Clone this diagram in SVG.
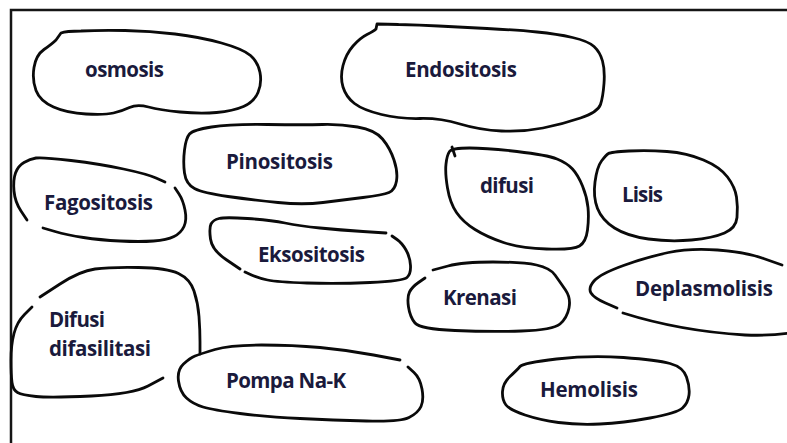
<svg xmlns="http://www.w3.org/2000/svg" width="787" height="443" viewBox="0 0 787 443">
<style>
.blob{fill:none;stroke:#0a0a0a;stroke-width:2.8;stroke-linecap:round;stroke-linejoin:round}
.frame{fill:none;stroke:#151515;stroke-width:2.5}
.lbl{font-family:"Open Sans","Lato","Noto Sans",sans-serif;font-weight:bold;font-size:20.5px;fill:#1a1a3c}
</style>
<rect width="787" height="443" fill="#ffffff"/>
<path class="frame" d="M11,443 L11,10 L787,10"/>
<g id="connectors"/>
<g id="osmosis">
<path class="blob" d="M81,31 Q100,30 125,30.5 Q150,31 175,34 Q200,37 221.5,43 Q243,49 250.5,55.5 Q258,62 260,72.5 Q262,83 258,92.5 Q254,102 243.5,106.5 Q233,111 216.5,112.5 Q200,114 180,112 Q160,110 148.5,107 Q137,104 129.5,107.5 Q122,111 113.5,113 Q105,115 86,114 Q67,113 53.5,107 Q40,101 36,90.5 Q32,80 34,67.5 Q36,55 44,49.5 Q52,44 56,40 L61,33 Q66,31 81,31 Z"/>
<text class="lbl" x="85" y="77" textLength="79">osmosis</text>
</g>
<g id="endositosis">
<path class="blob" d="M398.5,24.5 Q420,25 438.5,26 Q457,27 487,28.5 Q517,30 537,32 Q557,34 572.5,37.5 Q588,41 594,46.5 Q600,52 602.5,61 Q605,70 604,83.5 Q603,97 600.5,104.5 Q598,112 580.5,118 Q563,124 543,128 Q523,132 501.5,131 Q480,130 460,124 Q440,118 420,118.5 Q400,119 381.5,114.5 Q363,110 354.5,103.5 Q346,97 343,87 Q340,77 343,65.5 Q346,54 353,46 Q360,38 367,34.5 Q374,31 376,29 L377,24 Q388,24 398.5,24.5 Z"/>
<text class="lbl" x="405" y="77" textLength="112">Endositosis</text>
</g>
<g id="pinositosis">
<path class="blob" d="M211.5,127 Q230,124 267.5,124.5 Q305,125 322.5,124.5 Q340,124 357.5,127 Q375,130 382.5,139 Q390,148 394,160 Q398,172 396.5,181 Q395,190 389,192.5 Q383,195 363,197.5 Q343,200 323,202.5 Q303,205 278,202.5 Q253,200 228,196.5 Q203,193 194.5,188.5 Q186,184 184.5,173 Q183,162 184.5,150 Q186,138 189.5,134 Q193,130 211.5,127 Z"/>
<text class="lbl" x="226" y="169" textLength="107">Pinositosis</text>
</g>
<g id="fagositosis">
<path class="blob" d="M27,220 L21,211 Q15,202 14,191 Q13,180 15.5,173 Q18,166 24,162.5 Q30,159 36,158 Q42,157 71,160.5 Q100,164 123.5,169 Q147,174 156,178 L165,182"/>
<path class="blob" d="M175,188 L179,194 Q183,200 185,210 Q187,220 184,226.5 Q181,233 174,236.5 Q167,240 153.5,241 Q140,242 120,241 Q100,240 83.5,237.5 Q67,235 55,231.5 L43,228"/>
<text class="lbl" x="44" y="210" textLength="109">Fagositosis</text>
</g>
<g id="eksositosis">
<path class="blob" d="M240,269 L226,259.5 Q212,250 210.5,239 Q209,228 211,224 Q213,220 219,218.5 Q225,217 247.5,218.5 Q270,220 285,223 Q300,226 320,228 Q340,230 363,231.5 L386,233"/>
<path class="blob" d="M392,236 L397,239.5 Q402,243 406,250 Q410,257 410.5,265.5 Q411,274 407,277.5 Q403,281 370,282.5 Q337,284 307,283 Q277,282 267.5,280 Q258,278 251.5,275 L245,272"/>
<text class="lbl" x="258" y="262" textLength="107">Eksositosis</text>
</g>
<g id="difusi-difasilitasi">
<path class="blob" d="M40,297 L60,284 Q80,271 95,269 Q110,267 138.5,267.5 Q167,268 178.5,273.5 Q190,279 194,291 Q198,303 199,316.5 Q200,330 200,342 L200,354"/>
<path class="blob" d="M32,307 L24.5,314.5 Q17,322 14,333.5 Q11,345 11,360 Q11,375 12,382.5 Q13,390 17.5,392.5 Q22,395 36,396.5 Q50,398 91.5,396 Q133,394 148,386 L163,378"/>
<text class="lbl" x="49" y="327" textLength="56">Difusi</text>
<text class="lbl" x="49" y="356" textLength="102">difasilitasi</text>
</g>
<g id="pompa-na-k">
<path class="blob" d="M408,367 L414,372.5 Q420,378 422,389 Q424,400 421,406.5 Q418,413 409,417.5 Q400,422 366.5,421 Q333,420 300,418.5 Q267,417 240,413.5 Q213,410 203,407 Q193,404 186.5,398 Q180,392 178.5,381 Q177,370 183.5,364 Q190,358 195,356 Q200,354 215,349.5 Q230,345 261.5,345 Q293,345 320,347.5 Q347,350 373.5,355 L400,360"/>
<text class="lbl" x="226" y="388" textLength="120">Pompa Na-K</text>
</g>
<g id="difusi">
<path class="blob" d="M469.5,148 Q487,148 517,151.5 Q547,155 557,159 Q567,163 572.5,169 Q578,175 582.5,186 Q587,197 588,207.5 Q589,218 587.5,230 Q586,242 579.5,246 Q573,250 546.5,249 Q520,248 503.5,242.5 Q487,237 475,229.5 Q463,222 456.5,212.5 Q450,203 447.5,188 Q445,173 446,164 Q447,155 449.5,151.5 Q452,148 469.5,148 Z"/>
<path class="blob" d="M452,147 L455,156"/>
<text class="lbl" x="480" y="193" textLength="54">difusi</text>
</g>
<g id="lisis">
<path class="blob" d="M629,151 Q647,150 667,151.5 Q687,153 703.5,160 Q720,167 727.5,177 Q735,187 736.5,197 Q738,207 737,217.5 Q736,228 724.5,233 Q713,238 691.5,240 Q670,242 648.5,239 Q627,236 614.5,228 Q602,220 597.5,208.5 Q593,197 595,182 Q597,167 601.5,161 Q606,155 608.5,153.5 Q611,152 629,151 Z"/>
<text class="lbl" x="622" y="202" textLength="41">Lisis</text>
</g>
<g id="krenasi">
<path class="blob" d="M433,270 L448,266 Q463,262 493,262 Q523,262 536.5,265 Q550,268 555,275 Q560,282 565.5,290 Q571,298 569,308 Q567,318 560,324 Q553,330 521.5,331 Q490,332 455,330.5 Q420,329 415,323 Q410,317 408.5,307 Q407,297 409.5,292 Q412,287 418.5,282.5 L425,278"/>
<text class="lbl" x="443" y="305" textLength="74">Krenasi</text>
</g>
<g id="deplasmolisis">
<path class="blob" d="M782,265 L763.5,258.5 Q745,252 717.5,250 Q690,248 668.5,252.5 Q647,257 623.5,265.5 Q600,274 594,281 Q588,288 591,293 Q594,298 605.5,303 L617,308"/>
<path class="blob" d="M623,313 Q680,331 745,335 Q770,336 790,333"/>
<text class="lbl" x="635" y="296" textLength="138">Deplasmolisis</text>
</g>
<g id="hemolisis">
<path class="blob" d="M556.5,359 Q590,355 623.5,357.5 Q657,360 670,363.5 Q683,367 686.5,377 Q690,387 689,395 Q688,403 682.5,408 Q677,413 650,418 Q623,423 600,424 Q577,425 558.5,422.5 Q540,420 525,415 Q510,410 506,405 Q502,400 502.5,391.5 Q503,383 510,376.5 Q517,370 520,366.5 Q523,363 556.5,359 Z"/>
<text class="lbl" x="540" y="397" textLength="98">Hemolisis</text>
</g>
</svg>
